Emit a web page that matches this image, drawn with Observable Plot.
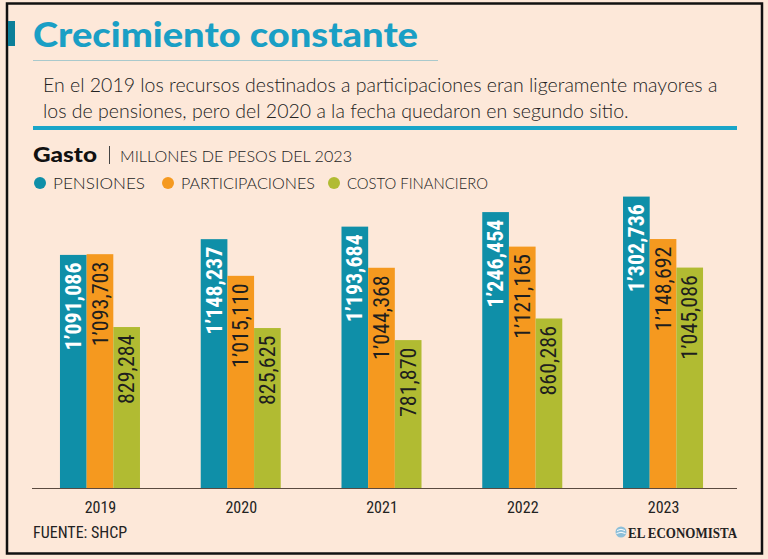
<!DOCTYPE html>
<html><head><meta charset="utf-8">
<script src="https://cdn.jsdelivr.net/npm/d3@7"></script>
<script src="https://cdn.jsdelivr.net/npm/@observablehq/plot@0.6"></script>
<style>
body{margin:0;background:#fde8d9;}
#wrap{position:relative;width:768px;height:559px;overflow:hidden;background:#fde8d9;}
#deco{position:absolute;left:0;top:0;}
#chart{position:absolute;left:0;top:190px;}
</style></head><body>
<div id="wrap"><svg id="deco" width="768" height="559"></svg><div id="chart"></div></div>
<script>
const years = ["2019","2020","2021","2022","2023"];
const series = ["PENSIONES","PARTICIPACIONES","COSTO FINANCIERO"];
const pensiones = [1091086,1148237,1193684,1246454,1302736];
const participaciones = [1093703,1015110,1044368,1121165,1148692];
const costoFinanciero = [829284,825625,781870,860286,1045086];
const colors = ["#0f8fa8","#f5991f","#b1bb32"];
const title = "Crecimiento constante";
const subtitle = ["En el 2019 los recursos destinados a participaciones eran ligeramente mayores a","los de pensiones, pero del 2020 a la fecha quedaron en segundo sitio."];
const unitLabel = "Gasto";
const unitText = "MILLONES DE PESOS DEL 2023";
const source = "FUENTE: SHCP";
const brand = "EL ECONOMISTA";

const seriesValues = [pensiones, participaciones, costoFinanciero];
const data = [];
years.forEach((y,i)=>series.forEach((s,j)=>data.push({year:y, serie:s, value:seriesValues[j][i]})));
const fmt = v => { const s = d3.format(",")(v); const p = s.split(","); return p.length>2 ? p[0]+"\u2019"+p.slice(1).join(",") : s; };

const cond = "'Roboto Condensed','DejaVu Sans Condensed',sans-serif";
const y0 = 245000;
const chart = Plot.plot({
  width:768, height:330, marginLeft:32, marginRight:31, marginTop:0, marginBottom:32,
  style:{background:"transparent", fontFamily:cond, fontSize:"16px", color:"#222"},
  fx:{domain:years, paddingInner:0.4316, paddingOuter:0.22, align:0.4516, round:false, label:null, axis:"bottom", tickSize:0, tickPadding:13},
  x:{domain:series, padding:0, round:false, axis:null},
  y:{domain:[y0,1326670], clamp:true, axis:null},
  color:{domain:series, range:colors},
  facet:{data, x:"year"},
  marks:[
    Plot.barY(data,{x:"serie", y:"value", fill:"serie"}),
    Plot.text(data,{filter:d=>d.serie===series[0], x:"serie", y:"value", text:d=>fmt(d.value), rotate:-90, textAnchor:"end", dy:7, fill:"white", fontWeight:"bold", fontSize:22}),
    Plot.text(data,{filter:d=>d.serie!==series[0], x:"serie", y:"value", text:d=>fmt(d.value), rotate:-90, textAnchor:"end", dy:7, fill:"#1e1e1e", fontSize:22})
  ]
});
document.getElementById("chart").appendChild(chart);
const svg = d3.select(chart);
const by = chart.scale("y").apply(y0);
svg.append("line").attr("x1",32).attr("x2",737).attr("y1",by+0.5).attr("y2",by+0.5).attr("stroke","#5a4a40").attr("stroke-width",1);

const deco = d3.select("#deco");
deco.append("rect").attr("x",7).attr("y",3.5).attr("width",755).attr("height",550).attr("fill","#fde8d9").attr("stroke","#111").attr("stroke-width",2.5);
deco.append("rect").attr("x",8).attr("y",21).attr("width",7).attr("height",25).attr("fill","#0b7f99");
deco.append("text").attr("x",33).attr("y",47).attr("font-family","Lato").attr("font-weight","900").attr("font-size",35).attr("fill","#1a9fc5").attr("textLength",385).attr("lengthAdjust","spacingAndGlyphs").text(title);
deco.append("line").attr("x1",33).attr("x2",438).attr("y1",60.5).attr("y2",60.5).attr("stroke","#a9c9cc");
subtitle.forEach((t,i)=>deco.append("text").attr("x",43).attr("y",92+i*26).attr("font-family","Lato").attr("font-weight","300").attr("font-size",19.5).attr("fill","#222").text(t));
deco.append("rect").attr("x",33).attr("y",126).attr("width",704).attr("height",4).attr("fill","#1aa5c8");
deco.append("text").attr("x",33).attr("y",162).attr("font-family","Lato").attr("font-weight","900").attr("font-size",21).attr("fill","#111").attr("textLength",64).attr("lengthAdjust","spacingAndGlyphs").text(unitLabel);
deco.append("line").attr("x1",109.5).attr("x2",109.5).attr("y1",146).attr("y2",164).attr("stroke","#444").attr("stroke-width",1);
deco.append("text").attr("x",120).attr("y",162).attr("font-family","Lato").attr("font-weight","300").attr("font-size",16).attr("fill","#222").attr("textLength",232).attr("lengthAdjust","spacingAndGlyphs").text(unitText);
const lx = [40,168,334], lw = [92,134,141];
series.forEach((s,i)=>{
  deco.append("circle").attr("cx",lx[i]).attr("cy",183).attr("r",6).attr("fill",colors[i]);
  deco.append("text").attr("x",lx[i]+13).attr("y",189).attr("font-family","Lato").attr("font-weight","300").attr("font-size",16).attr("fill","#222").attr("textLength",lw[i]).attr("lengthAdjust","spacingAndGlyphs").text(s);
});
deco.append("text").attr("x",33).attr("y",538).attr("font-family",cond).attr("font-size",16).attr("fill","#222").text(source);
const lg = deco.append("g").attr("transform","translate(621,532)");
lg.append("circle").attr("r",5.5).attr("fill","#8dbfd9");
lg.append("path").attr("d","M-4,-1.5 Q0,-4 4,-1.5 M-4.5,1.5 Q0,-1 4.5,1.5").attr("stroke","white").attr("stroke-width",1).attr("fill","none");
deco.append("text").attr("x",737).attr("y",538).attr("text-anchor","end").attr("font-family","'Liberation Serif',serif").attr("font-weight","bold").attr("font-size",15.5).attr("fill","#222").attr("textLength",109).attr("lengthAdjust","spacingAndGlyphs").text(brand);
</script></body></html>
